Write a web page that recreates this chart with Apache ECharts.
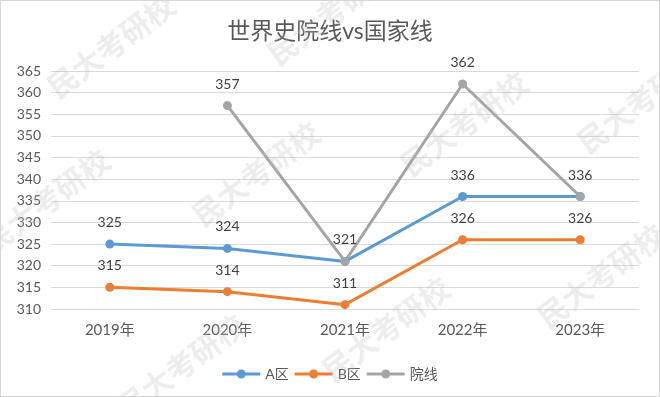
<!DOCTYPE html>
<html>
<head>
<meta charset="utf-8">
<script src="https://cdn.jsdelivr.net/npm/echarts@6/dist/echarts.min.js"></script>
<style>
  html, body { margin: 0; padding: 0; background: #fff; }
  #main { width: 660px; height: 397px; box-sizing: border-box; border: 1px solid #d6d6d6; }
</style>
</head>
<body>
<div id="main"></div>
<script>
    // 数据
    var years = ['2019年', '2020年', '2021年', '2022年', '2023年'];
    var aArea = [325, 324, 321, 336, 336];        // A区国家线
    var bArea = [315, 314, 311, 326, 326];        // B区国家线
    var schoolLine = [null, 357, 321, 362, 336];  // 院线（2019年无数据）

    var fontFam = "Lato, 'Noto Sans CJK SC', sans-serif";

    // 图例图标：粗线 + 圆点（左右两段线 + 中间实心圆）
    var legendIcon = 'path://M0,4 L15,4 L15,7 L0,7 Z M23,4 L38,4 L38,7 L23,7 Z ' +
                     'M14.5,5.5 A4.5,4.5 0 1,1 23.5,5.5 A4.5,4.5 0 1,1 14.5,5.5 Z';

    // 水印位置（中心点）
    var marks = [[110, 45], [330, 12], [463, 123], [640, 100], [45, 200],
                 [255, 173], [385, 328], [600, 275], [180, 365]];
    var markGraphics = marks.map(function (p) {
        return {
            type: 'text',
            x: p[0], y: p[1],
            rotation: 0.64,
            z: 100,
            silent: true,
            style: {
                text: '民大考研校',
                fontSize: 30,
                fontWeight: 'bold',
                fontFamily: "'Noto Sans CJK SC', sans-serif",
                fill: 'rgba(190,190,190,0.28)',
                align: 'center',
                verticalAlign: 'middle'
            }
        };
    });

    var lineChart = echarts.init(document.getElementById('main'));

    function makeSeries(name, data, color) {
        return {
            name: name,
            type: 'line',
            data: data,
            connectNulls: false,
            symbol: 'circle',
            symbolSize: 9,
            lineStyle: { width: 3, color: color },
            itemStyle: { color: color },
            labelLayout: { hideOverlap: true },
            label: {
                show: true,
                position: 'top',
                distance: 10,
                color: '#404040',
                fontSize: 14,
                fontFamily: fontFam
            }
        };
    }

    lineChart.setOption({
        animation: false,
        title: {
            text: '世界史院线vs国家线',
            left: 'center',
            top: 14,
            textStyle: {
                color: '#595959',
                fontSize: 23,
                fontWeight: 'normal',
                fontFamily: fontFam
            }
        },
        legend: {
            data: ['A区', 'B区', '院线'],
            left: 'center',
            top: 361,
            icon: legendIcon,
            itemWidth: 38,
            itemHeight: 9,
            itemGap: 6,
            itemStyle: { borderWidth: 0 },
            textStyle: { color: '#595959', fontSize: 14, fontFamily: fontFam }
        },
        grid: { left: 50, right: 20, top: 70, bottom: 87 },
        xAxis: {
            type: 'category',
            data: years,
            axisLine: { show: true, lineStyle: { color: '#d9d9d9' } },
            axisTick: { show: false },
            axisLabel: { color: '#595959', fontSize: 15, margin: 14, fontFamily: fontFam }
        },
        yAxis: {
            type: 'value',
            min: 310,
            max: 365,
            interval: 5,
            axisLine: { show: false },
            axisTick: { show: false },
            axisLabel: { color: '#595959', fontSize: 14, margin: 10, fontFamily: fontFam },
            splitLine: { lineStyle: { color: '#d9d9d9', width: 1 } }
        },
        graphic: markGraphics,
        series: [
            makeSeries('A区', aArea, '#5B9BD5'),
            makeSeries('B区', bArea, '#ED7D31'),
            makeSeries('院线', schoolLine, '#A5A5A5')
        ]
    });
</script>
</body>
</html>
